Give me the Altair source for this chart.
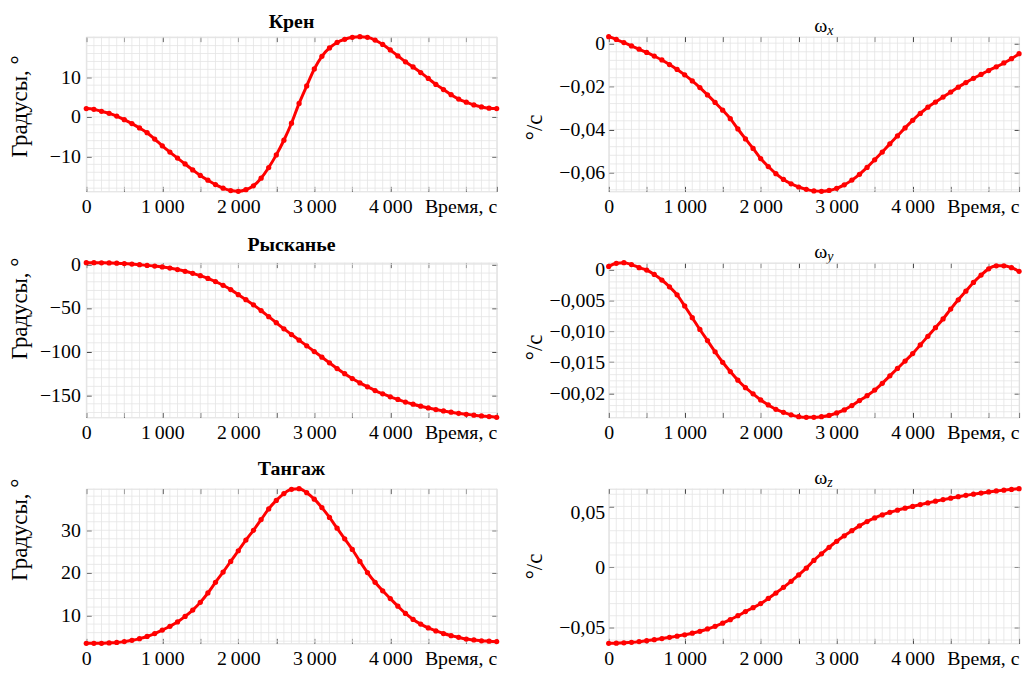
import altair as alt
import pandas as pd
import numpy as np

# ---------------- data ----------------
T = list(range(0, 5401, 100))  # time, s

KREN = [2.1, 1.9, 1.4, 0.9, 0.2, -0.7, -1.7, -2.8, -4.0, -5.6,
        -7.3, -8.9, -10.4, -11.9, -13.4, -14.8, -16.0, -17.1, -18.0, -18.6,
        -18.8, -18.4, -17.4, -15.5, -12.8, -9.6, -5.9, -1.6, 3.4, 7.8,
        12.1, 15.3, 17.4, 18.8, 19.6, 20.1, 20.25, 20.1, 19.4, 18.3,
        16.9, 15.4, 13.9, 12.6, 11.2, 9.7, 8.2, 6.9, 5.6, 4.5,
        3.7, 3.0, 2.5, 2.2, 2.1]

RYSK = [1.9, 1.9, 1.8, 1.6, 1.3, 0.9, 0.3, -0.4, -1.2, -2.0,
        -3.0, -4.3, -6.0, -8.0, -10.3, -13.0, -16.2, -19.8, -24.0, -29.0,
        -34.8, -40.5, -46.5, -53.0, -60.0, -67.0, -74.0, -80.5, -87.0, -93.5,
        -100.0, -106.5, -113.0, -119.5, -125.5, -131.0, -136.0, -140.5, -144.8, -148.5,
        -152.0, -155.0, -158.0, -160.5, -162.8, -164.8, -166.6, -168.2, -169.6, -170.9,
        -172.0, -173.0, -173.9, -174.6, -175.5]

TANG = [3.5, 3.5, 3.5, 3.6, 3.7, 3.9, 4.2, 4.6, 5.1, 5.8,
        6.6, 7.5, 8.5, 9.8, 11.3, 13.1, 15.3, 17.8, 20.2, 22.7,
        25.2, 27.7, 30.0, 32.5, 35.0, 37.0, 38.6, 39.6, 39.75, 38.8,
        37.3, 35.3, 33.0, 30.5, 28.0, 25.5, 22.7, 20.1, 17.8, 15.8,
        14.0, 12.2, 10.5, 9.1, 8.0, 7.1, 6.4, 5.8, 5.3, 4.9,
        4.5, 4.3, 4.1, 4.0, 3.9]

WX = [0.0030, 0.0017, 0.0003, -0.0013, -0.0028, -0.0043, -0.0060, -0.0078, -0.0099, -0.0122,
      -0.0147, -0.0175, -0.0206, -0.0240, -0.0275, -0.0311, -0.0350, -0.0398, -0.0444, -0.0488,
      -0.0535, -0.0572, -0.0605, -0.0632, -0.0652, -0.0667, -0.0678, -0.0685, -0.0687, -0.0683,
      -0.0673, -0.0657, -0.0635, -0.0608, -0.0576, -0.0541, -0.0505, -0.0467, -0.0430, -0.0393,
      -0.0358, -0.0326, -0.0297, -0.0273, -0.0250, -0.0227, -0.0204, -0.0183, -0.0163, -0.0145,
      -0.0127, -0.0110, -0.0092, -0.0072, -0.0049]

WY = [0.0005, 0.0010, 0.0011, 0.0008, 0.0003, -0.0001, -0.0008, -0.0017, -0.0028, -0.0041,
      -0.0059, -0.0078, -0.0097, -0.0115, -0.0133, -0.0150, -0.0165, -0.0179, -0.0191, -0.0201,
      -0.0211, -0.0219, -0.0226, -0.0231, -0.0235, -0.0238, -0.0239, -0.0239, -0.0238, -0.0236,
      -0.0232, -0.0227, -0.0220, -0.0212, -0.0204, -0.0195, -0.0184, -0.0172, -0.0160, -0.0148,
      -0.0136, -0.0122, -0.0108, -0.0094, -0.0080, -0.0064, -0.0049, -0.0035, -0.0021, -0.0009,
      0.0001, 0.0006, 0.0006, 0.0003, -0.0003]

WZ = [-0.0627, -0.0626, -0.0623, -0.0619, -0.0613, -0.0605, -0.0597, -0.0588, -0.0578, -0.0568,
      -0.0557, -0.0544, -0.0528, -0.0509, -0.0487, -0.0461, -0.0432, -0.0400, -0.0366, -0.0334,
      -0.0300, -0.0258, -0.0213, -0.0166, -0.0117, -0.0064, -0.0008, 0.0055, 0.0110, 0.0163,
      0.0213, 0.0258, 0.0300, 0.0340, 0.0375, 0.0405, 0.0430, 0.0451, 0.0469, 0.0485,
      0.0500, 0.0515, 0.0529, 0.0543, 0.0556, 0.0568, 0.0580, 0.0591, 0.0601, 0.0610,
      0.0619, 0.0627, 0.0634, 0.0640, 0.0646]

# tick values and labels
XT_VALUES = [0, 500, 1000, 1500, 2000, 2500, 3000, 3500, 4000, 4500, 5000, 5400]
XT_LABELS = ["0", "", "1\u2009000", "", "2\u2009000", "", "3\u2009000", "", "4\u2009000", "", "", "Время, с"]
XT_MIRROR = [0, 500, 1000, 1500, 2000, 2500, 3000, 3500, 4000, 4500, 5000]

KREN_T = [-10, 0, 10];            KREN_L = ["\u221210", "0", "10"]
RYSK_T = [-150, -100, -50, 0];    RYSK_L = ["\u2212150", "\u2212100", "\u221250", "0"]
TANG_T = [10, 20, 30];            TANG_L = ["10", "20", "30"]
WX_T = [-0.06, -0.04, -0.02, 0];  WX_L = ["\u22120,06", "\u22120,04", "\u22120,02", "0"]
WY_T = [-0.02, -0.015, -0.01, -0.005, 0]
WY_L = ["\u221200,02", "\u22120,015", "\u22120,010", "\u22120,005", "0"]
WZ_T = [-0.05, 0, 0.05];          WZ_L = ["\u22120,05", "0", "0,05"]

# ---------------- style ----------------
FONT = "Liberation Serif"
RED = "#ff0000"
GRID = "#e4e4e4"
W, H = 414, 156
INSET = 5


def lab_expr(vals, labs):
    expr = "''"
    for v, l in reversed(list(zip(vals, labs))):
        expr = f"abs(datum.value - ({v})) < 1e-9 ? '{l}' : ({expr})"
    return expr


def grid_vals(lo, hi, step):
    k0 = int(np.ceil(lo / step - 1e-9))
    k1 = int(np.floor(hi / step + 1e-9))
    return [round(k * step, 6) for k in range(k0, k1 + 1)]


def panel(vals, title, ylab, yt, yl, ystep, title_x, title_y, lpad,
          sub=None, label_offset=None):
    lo, hi = min(vals), max(vals)
    xs = alt.Scale(domain=[0, 5400], nice=False, zero=False)
    ys = alt.Scale(domain=[lo, hi], nice=False, zero=False)
    df = pd.DataFrame({"t": T, "v": vals})

    gx = alt.Chart(pd.DataFrame({"t": T})).mark_rule(color=GRID, strokeWidth=0.8).encode(
        x=alt.X("t:Q", scale=xs, axis=None))
    gy = alt.Chart(pd.DataFrame({"v": grid_vals(lo, hi, ystep)})).mark_rule(
        color=GRID, strokeWidth=0.8).encode(y=alt.Y("v:Q", scale=ys, axis=None))

    common = dict(domain=False, grid=False, tickSize=INSET, offset=-INSET,
                  tickColor="#333333", tickWidth=1, labelFont=FONT, labelFontSize=20,
                  labelColor="black", labelOverlap=False, labelFlush=False,
                  labelBound=False)
    yaxis_kw = dict(common)
    yaxis_kw.update(orient="left", values=yt, labelExpr=lab_expr(yt, yl),
                    labelPadding=lpad, title=ylab, titleFont=FONT, titleFontSize=23,
                    titleFontWeight="normal", titleColor="black", titleAngle=270,
                    titleAlign="center", titleBaseline="alphabetic",
                    titleX=title_x - INSET, titleY=title_y)
    if label_offset is not None:
        yaxis_kw["labelOffset"] = label_offset
    xaxis_kw = dict(common)
    xaxis_kw.update(orient="bottom", values=XT_VALUES,
                    labelExpr=lab_expr(XT_VALUES, XT_LABELS), labelPadding=5,
                    labelAlign={"condition": {"test": "datum.value > 5300", "value": "right"},
                                "value": "center"},
                    title=None)

    top_kw = dict(orient="top", values=XT_MIRROR, labels=False, domain=False, grid=False,
                  tickSize=INSET, offset=-INSET, tickColor="#333333")
    right_kw = dict(orient="right", values=yt, labels=False, domain=False, grid=False,
                    tickSize=INSET, offset=-INSET, tickColor="#333333")
    if sub is None:
        top_kw["title"] = None
        right_kw["title"] = None
    else:
        # omega title and its subscript, placed as titles of the mirrored axes
        top_kw.update(title=sub, titleFont=FONT, titleFontSize=14, titleFontStyle="italic",
                      titleFontWeight="normal", titleColor="black", titleAlign="left",
                      titleBaseline="alphabetic", titleAngle=0,
                      titleX=W / 2 + 13, titleY=-2 - INSET)
        right_kw.update(title=title, titleFont=FONT, titleFontSize=20,
                        titleFontWeight="normal", titleColor="black", titleAlign="left",
                        titleBaseline="alphabetic", titleAngle=0,
                        titleX=W / 2 - (W - INSET), titleY=-5)

    line = alt.Chart(df).mark_line(color=RED, strokeWidth=3, interpolate="monotone").encode(
        x=alt.X("t:Q", scale=xs, axis=alt.Axis(**xaxis_kw)),
        y=alt.Y("v:Q", scale=ys, axis=alt.Axis(**yaxis_kw)))
    pts = alt.Chart(df).mark_circle(color=RED, size=28, opacity=1).encode(
        x=alt.X("t:Q", scale=xs, axis=alt.Axis(**top_kw)),
        y=alt.Y("v:Q", scale=ys, axis=alt.Axis(**right_kw)))

    layer = alt.layer(gx, gy, line, pts)
    if sub is None:
        layer = layer.properties(title=alt.TitleParams(
            title, font=FONT, fontSize=20, fontWeight="bold", color="black",
            anchor="middle", offset=-1))
    return layer.resolve_axis(x="independent", y="independent").properties(width=W, height=H)


DEG = "Градусы, °"
OMEGA_U = "°/с"

p11 = panel(KREN, "Крен", DEG, KREN_T, KREN_L, 2, -60, 70, 6)
p12 = panel(WX, "ω", OMEGA_U, WX_T, WX_L, 0.004, -68, 91, 4, sub="x")
p21 = panel(RYSK, "Рысканье", DEG, RYSK_T, RYSK_L, 10, -60, 46, 6)
p22 = panel(WY, "ω", OMEGA_U, WY_T, WY_L, 0.001, -68, 85, 4, sub="y")
p31 = panel(TANG, "Тангаж", DEG, TANG_T, TANG_L, 2, -60, 41, 6)
p32 = panel(WZ, "ω", OMEGA_U, WZ_T, WZ_L, 0.01, -68, 78, 4, sub="z",
            label_offset={"condition": {"test": "datum.value > 0.04", "value": 6}, "value": 0})

chart = alt.concat(p11, p12, p21, p22, p31, p32, columns=2,
                   spacing={"row": 72, "column": 113}, bounds="flush").properties(
    padding={"left": 0, "top": 0, "right": 0, "bottom": 0}
).configure_view(stroke="#555555", strokeWidth=1).configure(font=FONT, background="white")

chart.save("out.html", embed_options={"renderer": "svg", "actions": False})
